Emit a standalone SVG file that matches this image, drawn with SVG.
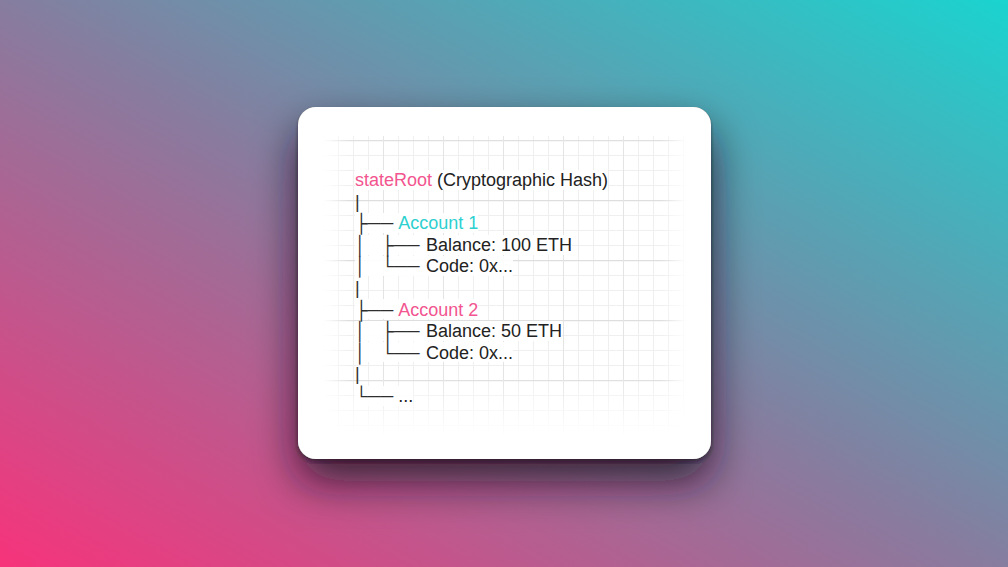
<svg xmlns="http://www.w3.org/2000/svg" width="1008" height="567" viewBox="0 0 1008 567">
  <defs>
    <linearGradient id="bg" x1="0" y1="1" x2="1" y2="0">
      <stop offset="0" stop-color="#f7337b"/>
      <stop offset="0.5" stop-color="#867d9f"/>
      <stop offset="1" stop-color="#1ad4cf"/>
    </linearGradient>
    <filter id="shadow" x="-40%" y="-40%" width="180%" height="200%">
      <feDropShadow in="SourceAlpha" dx="0" dy="22" stdDeviation="22" flood-color="#1a0820" flood-opacity="0.8" result="s1"/>
      <feDropShadow in="SourceAlpha" dx="0" dy="2" stdDeviation="1.5" flood-color="#1a0820" flood-opacity="0.55" result="s2"/>
      <feMerge>
        <feMergeNode in="s1"/>
        <feMergeNode in="s2"/>
        <feMergeNode in="SourceGraphic"/>
      </feMerge>
    </filter>
    <pattern id="minor" x="323" y="140" width="15" height="15" patternUnits="userSpaceOnUse">
      <path d="M0 0.5H15M0.5 0V15" fill="none" stroke="#efefef" stroke-width="1"/>
    </pattern>
    <pattern id="major" x="323" y="140" width="60" height="60" patternUnits="userSpaceOnUse">
      <path d="M0 0.5H60" fill="none" stroke="#dedede" stroke-width="1.6"/>
      <path d="M0.5 0V60" fill="none" stroke="#e4e4e4" stroke-width="1"/>
    </pattern>
    <linearGradient id="fadeH" x1="0" y1="0" x2="1" y2="0">
      <stop offset="0" stop-color="#fff" stop-opacity="0"/>
      <stop offset="0.07" stop-color="#fff" stop-opacity="1"/>
      <stop offset="0.93" stop-color="#fff" stop-opacity="1"/>
      <stop offset="1" stop-color="#fff" stop-opacity="0"/>
    </linearGradient>
    <linearGradient id="fadeV" x1="0" y1="0" x2="0" y2="1">
      <stop offset="0" stop-color="#fff" stop-opacity="0.9"/>
      <stop offset="0.05" stop-color="#fff" stop-opacity="1"/>
      <stop offset="0.8" stop-color="#fff" stop-opacity="1"/>
      <stop offset="1" stop-color="#fff" stop-opacity="0"/>
    </linearGradient>
    <mask id="maskH" maskUnits="userSpaceOnUse" x="0" y="0" width="1008" height="567">
      <rect x="323" y="136" width="364" height="300" fill="url(#fadeH)"/>
    </mask>
    <mask id="maskV" maskUnits="userSpaceOnUse" x="0" y="0" width="1008" height="567">
      <rect x="323" y="136" width="364" height="300" fill="url(#fadeV)"/>
    </mask>
  </defs>
  <style>
    text { font-family: "Liberation Sans", Arial, sans-serif; font-size: 18px; fill: #222222; white-space: pre; }
    .tree { fill: #2e2e2e; }
    .pink { fill: #f2558f; }
    .teal { fill: #2dd0cf; }
    .linebg { fill: #ffffff; fill-opacity: 0.9; }
  </style>

  <rect x="0" y="0" width="1008" height="567" fill="url(#bg)"/>

  <g id="card">
    <rect x="298" y="107" width="413" height="352" rx="18" ry="18" fill="#ffffff" filter="url(#shadow)"/>
    <g mask="url(#maskV)">
      <g mask="url(#maskH)">
        <rect x="323" y="136" width="364" height="300" fill="url(#minor)"/>
        <rect x="323" y="136" width="364" height="300" fill="url(#major)"/>
      </g>
    </g>
  </g>

  <g id="line-backgrounds">
    <rect class="linebg" x="355" y="170" width="253" height="20"/>
    <rect class="linebg" x="355" y="213" width="123" height="20"/>
    <rect class="linebg" x="355" y="235" width="217" height="20"/>
    <rect class="linebg" x="355" y="256" width="158" height="20"/>
    <rect class="linebg" x="355" y="299" width="123" height="20"/>
    <rect class="linebg" x="355" y="321" width="207" height="20"/>
    <rect class="linebg" x="355" y="342" width="158" height="20"/>
    <rect class="linebg" x="355" y="386" width="58" height="20"/>
  </g>

  <g id="connectors">
    <text class="tree" x="355" y="207.6">|</text>
    <text class="tree" x="355" y="229.2">├──</text>
    <text class="tree" x="355" y="250.8">│   ├──</text>
    <text class="tree" x="355" y="272.4">│   └──</text>
    <text class="tree" x="355" y="294">|</text>
    <text class="tree" x="355" y="315.6">├──</text>
    <text class="tree" x="355" y="337.2">│   ├──</text>
    <text class="tree" x="355" y="358.8">│   └──</text>
    <text class="tree" x="355" y="380.4">|</text>
    <text class="tree" x="355" y="402">└──</text>
  </g>

  <g id="stateRoot">
    <text x="355" y="186"><tspan class="pink">stateRoot</tspan> (Cryptographic Hash)</text>
  </g>
  <g id="account1">
    <text class="teal" x="398.2" y="229.2">Account 1</text>
  </g>
  <g id="account1-balance">
    <text x="426" y="250.8">Balance: 100 ETH</text>
  </g>
  <g id="account1-code">
    <text x="426" y="272.4">Code: 0x...</text>
  </g>
  <g id="account2">
    <text class="pink" x="398.2" y="315.6">Account 2</text>
  </g>
  <g id="account2-balance">
    <text x="426" y="337.2">Balance: 50 ETH</text>
  </g>
  <g id="account2-code">
    <text x="426" y="358.8">Code: 0x...</text>
  </g>
  <g id="more">
    <text x="398.2" y="402">...</text>
  </g>
</svg>
